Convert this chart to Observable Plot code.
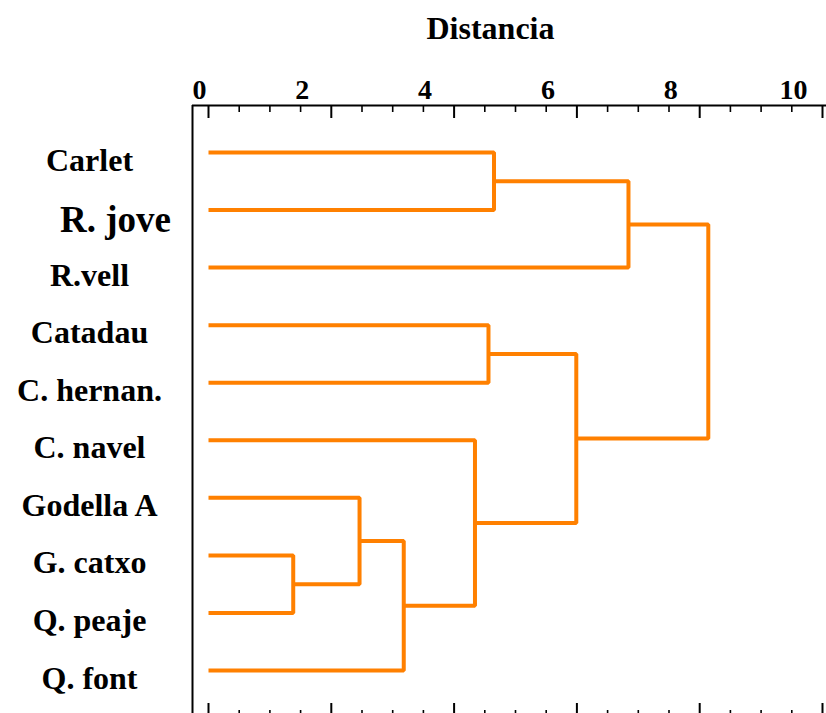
<!DOCTYPE html>
<html>
<head>
<meta charset="utf-8">
<script src="https://cdn.jsdelivr.net/npm/d3@7"></script>
<script src="https://cdn.jsdelivr.net/npm/@observablehq/plot@0.6"></script>
<style>
  html, body { margin: 0; padding: 0; background: #fff; }
  #chart svg { display: block; }
</style>
</head>
<body>
<div id="chart"></div>
<script>
// ---- data ----
const title = "Distancia";
const leaves = ["Carlet", "R. jove", "R.vell", "Catadau", "C. hernan.", "C. navel", "Godella A", "G. catxo", "Q. peaje", "Q. font"];
// merges: [childA, childB, height]; children are leaf names or "#k" (k-th merge)
const merges = [
  ["G. catxo", "Q. peaje", 1.38],
  ["Godella A", "#0", 2.46],
  ["#1", "Q. font", 3.18],
  ["C. navel", "#2", 4.34],
  ["Catadau", "C. hernan.", 4.56],
  ["Carlet", "R. jove", 4.65],
  ["#4", "#3", 5.99],
  ["#5", "R.vell", 6.84],
  ["#7", "#6", 8.14]
];
const majorTicks = [0, 2, 4, 6, 8, 10];
const minorTicks = [0.5, 1, 1.5, 2.5, 3, 3.5, 4.5, 5, 5.5, 6.5, 7, 7.5, 8.5, 9, 9.5];

// ---- build dendrogram polylines ----
const nodePos = (ref, nodes) => {
  if (ref.startsWith("#")) return nodes[+ref.slice(1)];
  return {x: 0, y: leaves.indexOf(ref)};
};
const nodes = [];
const pts = [];
merges.forEach(([a, b, h], k) => {
  const A = nodePos(a, nodes), B = nodePos(b, nodes);
  pts.push({k, x: A.x, y: A.y}, {k, x: h, y: A.y}, {k, x: h, y: B.y}, {k, x: B.x, y: B.y});
  nodes.push({x: h, y: (A.y + B.y) / 2});
});

const W = 826, H = 713, mTop = 105, mLeft = 192;
const plotH = H - mTop;
const font = "'Liberation Serif', 'Times New Roman', Times, serif";
const orange = "#FF8000";

const chart = Plot.plot({
  width: W,
  height: H,
  marginTop: mTop,
  marginLeft: mLeft,
  marginRight: 0,
  marginBottom: 0,
  style: {background: "white", fontFamily: font, color: "black"},
  x: {domain: [0, 10], insetLeft: 16, insetRight: 4, axis: null},
  y: {domain: [0, leaves.length - 1], reverse: true, insetTop: 47, insetBottom: 43, axis: null},
  marks: [
    // frame lines (top and left)
    Plot.ruleY([0], {dy: -47, stroke: "black", strokeWidth: 2}),
    Plot.ruleX([0], {dx: -16, stroke: "black", strokeWidth: 2}),
    // top ticks
    Plot.ruleX(majorTicks, {x: d => d, insetBottom: plotH - 13, stroke: "black", strokeWidth: 2}),
    Plot.ruleX(minorTicks, {x: d => d, insetBottom: plotH - 7, stroke: "black", strokeWidth: 1.6}),
    // bottom ticks
    Plot.ruleX(majorTicks, {x: d => d, insetTop: plotH - 10, stroke: "black", strokeWidth: 2}),
    Plot.ruleX(minorTicks, {x: d => d, insetTop: plotH - 3, stroke: "black", strokeWidth: 1.6}),
    // tick labels
    Plot.text(majorTicks.filter(v => v === 0), {x: d => d, text: d => String(d), frameAnchor: "top", lineAnchor: "bottom", dy: -7, dx: -9, fontSize: 28, fontWeight: "bold"}),
    Plot.text(majorTicks.filter(v => v > 0), {x: d => d, text: d => String(d), frameAnchor: "top", lineAnchor: "bottom", dy: -7, dx: -29, fontSize: 28, fontWeight: "bold"}),
    // title
    Plot.text([title], {text: d => d, frameAnchor: "top", lineAnchor: "bottom", dx: -19, dy: -67, fontSize: 32, fontWeight: "bold"}),
    // leaf labels
    Plot.text(leaves.map((name, i) => ({name, i})).filter(d => d.name !== "R. jove"), {y: "i", text: "name", frameAnchor: "left", textAnchor: "middle", lineAnchor: "bottom", dx: -103, dy: 18, fontSize: 32, fontWeight: "bold"}),
    Plot.text(leaves.map((name, i) => ({name, i})).filter(d => d.name === "R. jove"), {y: "i", text: "name", frameAnchor: "left", textAnchor: "middle", lineAnchor: "bottom", dx: -77, dy: 22, fontSize: 37, fontWeight: "bold"}),
    // dendrogram
    Plot.line(pts, {x: "x", y: "y", z: "k", stroke: orange, strokeWidth: 4, strokeLinejoin: "miter", strokeLinecap: "butt", curve: "linear"})
  ]
});
document.getElementById("chart").append(chart);
</script>
</body>
</html>
